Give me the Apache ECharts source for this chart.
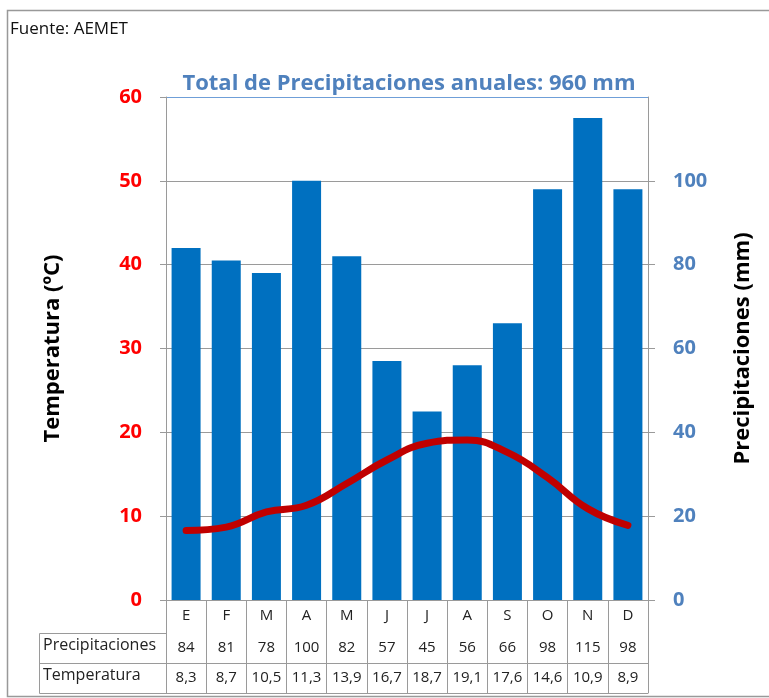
<!DOCTYPE html>
<html>
<head>
<meta charset="utf-8">
<title>Climograma</title>
<script src="https://cdn.jsdelivr.net/npm/echarts@6/dist/echarts.min.js"></script>
<style>
  html, body { margin: 0; padding: 0; background: #fff; }
  #chart { width: 769px; height: 698px; }
</style>
</head>
<body>
<div id="chart"></div>
<script>
// months (Spanish initials)
const months = ['E', 'F', 'M', 'A', 'M', 'J', 'J', 'A', 'S', 'O', 'N', 'D'];
// precipitation, mm
const precipitaciones = [84, 81, 78, 100, 82, 57, 45, 56, 66, 98, 115, 98];
// mean temperature, ºC
const temperatura = [8.3, 8.7, 10.5, 11.3, 13.9, 16.7, 18.7, 19.1, 17.6, 14.6, 10.9, 8.9];
const rowNames = ['Precipitaciones', 'Temperatura'];

const totalPrecip = precipitaciones.reduce((a, b) => a + b, 0);
const fmtTemp = v => String(v).replace('.', ',');

const gridColor = '#9a9a9a';
const font = 'Open Sans';

const chart = echarts.init(document.getElementById('chart'));

const option = {
  backgroundColor: '#fff',
  textStyle: { fontFamily: font },
  animation: false,
  title: {
    text: 'Total de Precipitaciones anuales: ' + totalPrecip + ' mm',
    left: 404,
    top: 68,
    textAlign: 'center',
    textStyle: { color: '#4F81BD', fontSize: 22, fontWeight: 'bold', fontFamily: font }
  },
  grid: { left: 166, right: 121, top: 97, bottom: 98, containLabel: false },
  xAxis: [
    {
      type: 'category',
      data: months,
      axisLine: { lineStyle: { color: gridColor } },
      axisTick: { show: true, length: 93, interval: 0, lineStyle: { color: gridColor } },
      axisLabel: { color: '#222', fontSize: 15, margin: 8, interval: 0 }
    },
    {
      type: 'category',
      data: months,
      position: 'bottom',
      offset: 33,
      axisLine: { lineStyle: { color: gridColor } },
      axisTick: { show: false },
      axisLabel: {
        color: '#222', fontSize: 15, margin: 7, interval: 0,
        formatter: (v, i) => String(precipitaciones[i])
      }
    },
    {
      type: 'category',
      data: months,
      position: 'bottom',
      offset: 63,
      axisLine: { lineStyle: { color: gridColor } },
      axisTick: { show: false },
      axisLabel: {
        color: '#222', fontSize: 15, margin: 7, interval: 0,
        formatter: (v, i) => fmtTemp(temperatura[i])
      }
    },
    {
      type: 'category',
      data: months,
      position: 'bottom',
      offset: 93,
      axisLine: { lineStyle: { color: gridColor } },
      axisTick: { show: false },
      axisLabel: { show: false }
    }
  ],
  yAxis: [
    {
      type: 'value',
      min: 0,
      max: 60,
      interval: 10,
      name: 'Temperatura (ºC)',
      nameLocation: 'middle',
      nameGap: 102,
      nameTextStyle: { color: '#000', fontSize: 22, fontWeight: 'bold', fontFamily: font },
      axisLine: { show: true, lineStyle: { color: gridColor } },
      axisTick: { show: true, length: 6, lineStyle: { color: gridColor } },
      axisLabel: { color: '#FF0000', fontSize: 20, fontWeight: 'bold', margin: 24 },
      splitLine: {
        show: true,
        lineStyle: { color: [gridColor, gridColor, gridColor, gridColor, gridColor, gridColor, '#6F9FD8'] }
      }
    },
    {
      type: 'value',
      min: 0,
      max: 120,
      interval: 20,
      name: 'Precipitaciones (mm)',
      nameLocation: 'middle',
      nameGap: 84,
      nameTextStyle: { color: '#000', fontSize: 22, fontWeight: 'bold', fontFamily: font },
      axisLine: { show: true, lineStyle: { color: gridColor } },
      axisTick: { show: true, length: 7, lineStyle: { color: gridColor } },
      axisLabel: { color: '#4F81BD', fontSize: 20, fontWeight: 'bold', margin: 25, showMaxLabel: false },
      splitLine: { show: false }
    }
  ],
  series: [
    {
      name: 'Precipitaciones',
      type: 'bar',
      xAxisIndex: 0,
      yAxisIndex: 1,
      data: precipitaciones,
      barWidth: 29,
      itemStyle: { color: '#0070C0' },
      z: 2
    },
    {
      name: 'Temperatura',
      type: 'line',
      xAxisIndex: 0,
      yAxisIndex: 0,
      data: temperatura,
      smooth: 0.45,
      symbol: 'none',
      lineStyle: { color: '#C00000', width: 7, cap: 'round' },
      z: 3
    }
  ],
  graphic: [
    // outer frame
    {
      type: 'rect',
      shape: { x: 7.5, y: 10.5, width: 800, height: 686 },
      style: { fill: 'none', stroke: '#999', lineWidth: 1.5 },
      silent: true
    },
    {
      type: 'text',
      left: 10,
      top: 21,
      style: { text: 'Fuente: AEMET', fill: '#111', font: '17px "Open Sans"' }
    },
    // row header cells of the data table
    {
      type: 'rect',
      shape: { x: 39.5, y: 633.5, width: 127, height: 60 },
      style: { fill: 'none', stroke: gridColor, lineWidth: 1 },
      silent: true
    },
    {
      type: 'line',
      shape: { x1: 39.5, y1: 663.5, x2: 166.5, y2: 663.5 },
      style: { stroke: gridColor, lineWidth: 1 },
      silent: true
    },
    {
      type: 'text',
      left: 43,
      top: 637,
      style: { text: rowNames[0], fill: '#222', font: '16px "Open Sans"' }
    },
    {
      type: 'text',
      left: 43,
      top: 667,
      style: { text: rowNames[1], fill: '#222', font: '16px "Open Sans"' }
    }
  ]
};

chart.setOption(option);
</script>
</body>
</html>
